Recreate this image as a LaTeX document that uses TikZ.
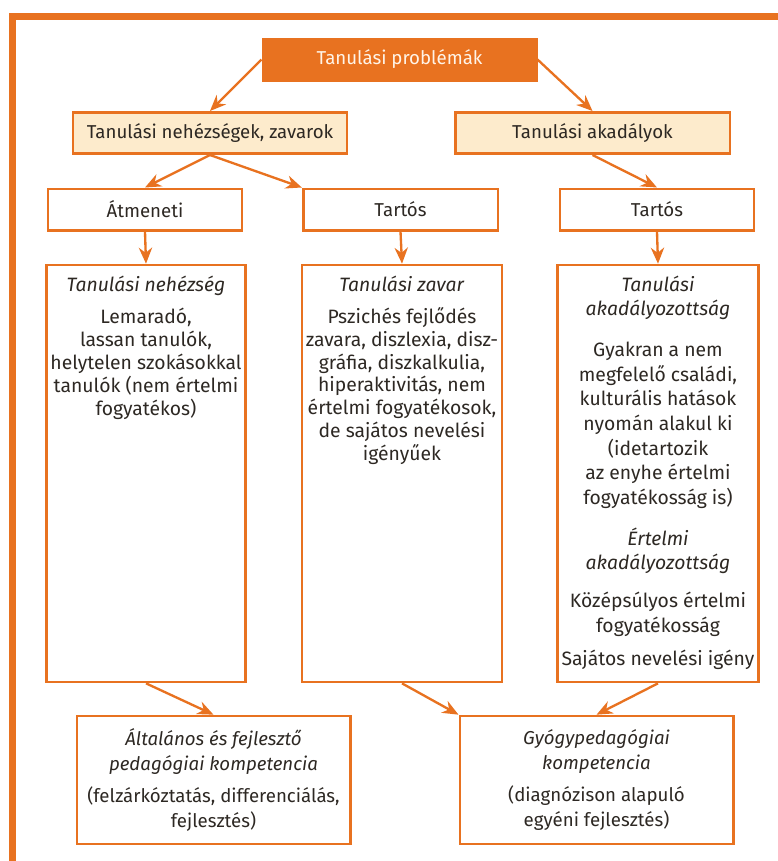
\documentclass[tikz,border=0pt]{standalone}
\usepackage{fontspec}
\setmainfont{Fira Sans}
\usetikzlibrary{arrows.meta}

\definecolor{narancs}{RGB}{232,114,32}
\definecolor{krem}{RGB}{253,235,204}
\definecolor{szoveg}{RGB}{45,40,35}
\definecolor{cimszoveg}{RGB}{255,244,232}

% tobbsoros, felulrol kezdodo szoveg
\newcommand{\blokk}[1]{\begin{tabular}[t]{@{}c@{}}#1\end{tabular}}

\begin{document}
\begin{tikzpicture}[x=0.75pt, y=-0.75pt]
    \tikzstyle{every node} = [text=szoveg, font=\fontsize{14.5}{17}\selectfont]
    \tikzstyle{doboz} = [draw=narancs, line width=2pt, inner sep=3pt, align=center]
    \tikzstyle{fejdoboz} = [doboz, font=\fontsize{14}{16}\selectfont, minimum height=31pt]
    \tikzstyle{nagydoboz} = [doboz, minimum width=147pt, text height=16.5pt, text depth=290.25pt]
    \tikzstyle{kompdoboz} = [doboz, font=\fontsize{14}{19}\selectfont, minimum width=205pt, minimum height=96pt]
    \tikzstyle{nyil} = [draw=narancs, line width=1.75pt, -{Stealth[length=12pt, width=10pt]}]
    \useasboundingbox (0,0) rectangle (778,861);
    \draw [narancs, line width=5pt] (12.5,16.5) rectangle (820,900);
    % felso szint
    \node (prob) [fejdoboz, fill=narancs, text=cimszoveg, minimum width=205pt] at (399.5,59.5) {Tanulási problémák};
    \node (nehez) [fejdoboz, fill=krem, minimum width=205.5pt] at (210,133) {Tanulási nehézségek, zavarok};
    \node (akad) [fejdoboz, fill=krem, minimum width=206pt] at (592.5,133) {Tanulási akadályok};
    \node (atm) [fejdoboz, minimum width=145.5pt] at (145,209.5) {Átmeneti};
    \node (tart1) [fejdoboz, minimum width=146pt] at (400.5,209.5) {Tartós};
    \node (tart2) [fejdoboz, minimum width=145.5pt] at (657,209.5) {Tartós};
    % nagy dobozok
    \node (nehezseg) [nagydoboz] at (146,473.5) {\blokk{\textit{Tanulási nehézség}\\[7.5pt]
        Lemaradó,\\ lassan tanulók,\\ helytelen szokásokkal\\ tanulók (nem értelmi\\ fogyatékos)}};
    \node (zavar) [nagydoboz] at (402,473.5) {\blokk{\textit{Tanulási zavar}\\[7.5pt]
        Pszichés fejlődés\\ zavara, diszlexia, disz-\\ gráfia, diszkalkulia,\\ hiperaktivitás, nem\\
        értelmi fogyatékosok,\\ de sajátos nevelési\\ igényűek}};
    \node (akadaly) [nagydoboz, font=\fontsize{14.5}{18.5}\selectfont] at (658,473.5) {\blokk{\textit{Tanulási}\\ \textit{akadályozottság}\\[12pt]
        Gyakran a nem\\ megfelelő családi,\\ kulturális hatások\\ nyomán alakul ki\\ (idetartozik\\
        az enyhe értelmi\\ fogyatékosság is)\\[12pt] \textit{Értelmi}\\ \textit{akadályozottság}\\[10pt]
        Középsúlyos értelmi\\ fogyatékosság\\[6pt] Sajátos nevelési igény}};
    % kompetenciak
    \node (altkomp) [kompdoboz] at (213.5,780)
        {\textit{Általános és fejlesztő}\\ \textit{pedagógiai kompetencia}\\[5pt]
        (felzárkóztatás, differenciálás,\\ fejlesztés)};
    \node (gyogykomp) [kompdoboz] at (596.5,780)
        {\textit{Gyógypedagógiai}\\ \textit{kompetencia}\\[5pt]
        (diagnózison alapuló\\ egyéni fejlesztés)};
    % nyilak
    \draw [nyil] (prob.west) -- (nehez.north);
    \draw [nyil] (prob.east) -- (akad.north);
    \draw [nyil] (nehez.south) -- (atm.north);
    \draw [nyil] (nehez.south) -- (tart1.north west);
    \draw [nyil] (akad.south) -- (tart2.north);
    \draw [nyil] (atm.south) -- (nehezseg.north);
    \draw [nyil] (tart1.south) -- (zavar.north);
    \draw [nyil] (tart2.south) -- (akadaly.north);
    \draw [nyil] (nehezseg.south) -- (altkomp.north);
    \draw [nyil] (zavar.south) -- (gyogykomp.north west);
    \draw [nyil] (akadaly.south) -- (gyogykomp.north);
\end{tikzpicture}
\end{document}
